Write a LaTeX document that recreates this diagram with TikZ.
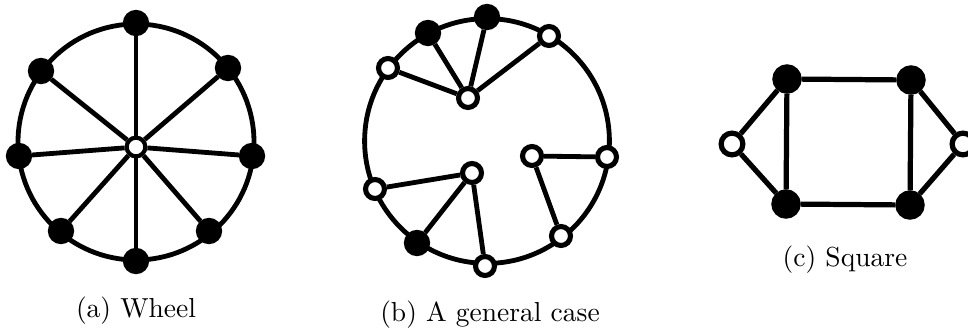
\documentclass[tikz,border=0pt]{standalone}
\usetikzlibrary{backgrounds}
\begin{document}
\begin{tikzpicture}[x=0.3636pt,y=-0.3636pt,
  edge/.style={line width=1.75pt},
  edgec/.style={line width=1.9pt},
  bnode/.style={circle,draw=black,fill=black,line width=1.75pt,minimum size=7.8pt,inner sep=0pt},
  wnode/.style={circle,draw=black,fill=white,line width=1.85pt,minimum size=6.9pt,inner sep=0pt},
  hubnode/.style={circle,draw=black,fill=white,line width=1.5pt,minimum size=6.8pt,inner sep=0pt},
  bnodec/.style={circle,draw=black,fill=black,line width=1.9pt,minimum size=8.8pt,inner sep=0pt},
  wnodec/.style={circle,draw=black,fill=white,line width=1.9pt,minimum size=7.9pt,inner sep=0pt},
  captext/.style={anchor=base,font=\fontsize{10pt}{12pt}\selectfont,inner sep=0pt}]
\useasboundingbox (0,0) rectangle (968,329);
% ---------- (a) Wheel ----------
\coordinate (wc) at (136,142);
\node[bnode] (w1) at (136,23) {};
\node[bnode] (w2) at (228,68) {};
\node[bnode] (w3) at (252,156) {};
\node[bnode] (w4) at (209,231) {};
\node[bnode] (w5) at (136,261) {};
\node[bnode] (w6) at (61,231) {};
\node[bnode] (w7) at (19,156) {};
\node[bnode] (w8) at (41,71) {};
\node[hubnode] (wz) at (136,147) {};
\begin{scope}[on background layer]
\draw[edge] (wc) circle[radius=42.9pt];
\foreach \i in {1,...,8} \draw[edge] (wz) -- (w\i);
\end{scope}
\node[captext] (capa) at (136,317) {(a) Wheel};
% ---------- (b) A general case ----------
\coordinate (bc) at (487,141);
\node[bnode] (b1) at (428,33) {};
\node[bnode] (b2) at (487,17) {};
\node[wnode] (b3) at (549,36) {};
\node[wnode] (b4) at (388,68) {};
\node[wnode] (b5) at (468,98) {};
\node[wnode] (b6) at (607,157) {};
\node[wnode] (b7) at (532,156) {};
\node[wnode] (b8) at (472,173) {};
\node[wnode] (b9) at (375,189) {};
\node[bnode] (b10) at (417,243) {};
\node[wnode] (b11) at (485,266) {};
\node[wnode] (b12) at (561,236) {};
\begin{scope}[on background layer]
\draw[edge] (bc) circle[radius=44.5pt];
\draw[edge] (b1) -- (b5);
\draw[edge] (b2) -- (b5);
\draw[edge] (b3) -- (b5);
\draw[edge] (b4) -- (b5);
\draw[edge] (b7) -- (b6);
\draw[edge] (b7) -- (b12);
\draw[edge] (b8) -- (b9);
\draw[edge] (b8) -- (b10);
\draw[edge] (b8) -- (b11);
\end{scope}
\node[captext] (capb) at (490,321) {(b) A general case};
% ---------- (c) Square ----------
\node[bnodec] (c1) at (787,79) {};
\node[bnodec] (c2) at (911,80) {};
\node[bnodec] (c3) at (786,204) {};
\node[bnodec] (c4) at (910,205) {};
\node[wnodec] (c5) at (732,144) {};
\node[wnodec] (c6) at (963,144) {};
\begin{scope}[on background layer]
\draw[edgec] (c1) -- (c2);
\draw[edgec] (c3) -- (c4);
\draw[edgec] (c1) -- (c3);
\draw[edgec] (c2) -- (c4);
\draw[edgec] (c5) -- (c1);
\draw[edgec] (c5) -- (c3);
\draw[edgec] (c6) -- (c2);
\draw[edgec] (c6) -- (c4);
\end{scope}
\node[captext] (capc) at (845,266) {(c) Square};
\end{tikzpicture}
\end{document}
